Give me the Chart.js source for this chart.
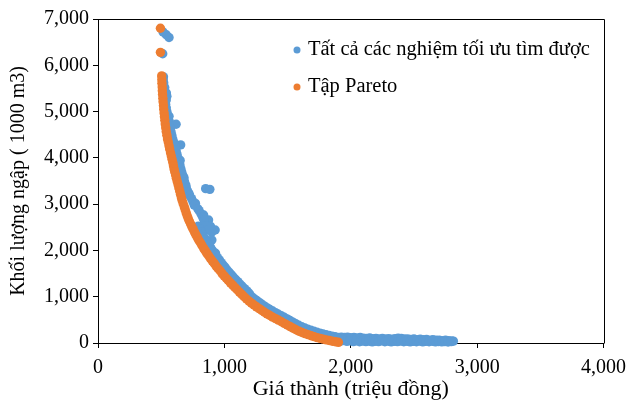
<!DOCTYPE html>
<html>
<head>
<meta charset="utf-8">
<script src="https://cdn.jsdelivr.net/npm/chart.js@4.4.1/dist/chart.umd.min.js"></script>
<style>
    html, body { margin: 0; padding: 0; background: #fff; }
</style>
</head>
<body>
<canvas id="chart" width="634" height="408"></canvas>
<script>
// Pareto set (cost, flooded volume)
const paretoCost = [
    494, 494, 504, 505, 506, 508, 509, 511, 513, 515, 518, 520, 523, 526, 529, 532, 536, 540, 545, 550,
    556, 562, 567, 574, 580, 586, 592, 597, 602, 607, 614, 620, 627, 634, 640, 647, 653, 660, 666, 674,
    683, 690, 698, 706, 714, 723, 733, 743, 754, 765, 776, 788, 800, 812, 824, 837, 850, 863, 877, 891,
    905, 920, 935, 950, 966, 982, 998, 1015, 1031, 1048, 1066, 1083, 1101, 1119, 1138, 1156, 1175, 1195, 1214, 1234,
    1254, 1275, 1296, 1317, 1338, 1360, 1382, 1405, 1428, 1451, 1474, 1497, 1520, 1543, 1566, 1590, 1614, 1638, 1662, 1686,
    1710, 1734, 1758, 1782, 1806, 1830, 1854, 1878, 1902
];
const paretoVolume = [
    6800, 6280, 5770, 5690, 5610, 5530, 5450, 5370, 5290, 5210, 5130, 5050, 4970, 4890, 4810, 4730, 4650, 4570, 4490, 4410,
    4340, 4260, 4190, 4110, 4040, 3970, 3900, 3830, 3760, 3700, 3630, 3560, 3490, 3420, 3350, 3280, 3210, 3140, 3080, 3010,
    2940, 2880, 2810, 2750, 2690, 2630, 2570, 2510, 2450, 2390, 2330, 2270, 2210, 2160, 2100, 2040, 1990, 1930, 1880, 1820,
    1770, 1720, 1660, 1610, 1560, 1500, 1450, 1400, 1350, 1300, 1250, 1200, 1150, 1100, 1050, 1000, 950, 905, 862, 822,
    782, 742, 702, 664, 628, 595, 560, 527, 494, 460, 425, 390, 355, 320, 287, 255, 228, 203, 180, 158,
    137, 117, 100, 84, 68, 53, 39, 26, 15
];

// All optimal solutions found
const allCost = [
    515, 540, 562, 512, 518, 516, 520, 528, 541, 545, 540, 535, 540, 545, 552, 562, 558, 565, 618, 574,
    578, 585, 592, 654, 603, 612, 618, 650, 625, 632, 640, 648, 655, 662, 680, 670, 678, 685, 695, 700,
    719, 710, 725, 740, 771, 752, 762, 790, 800, 836, 815, 875, 828, 860, 840, 862, 927, 890, 900, 850,
    875, 852, 885, 901, 930, 1000,
    794, 805, 816, 828, 840, 852, 864, 877, 890, 903, 917, 931, 945, 960, 975, 990, 1006, 1022, 1038, 1055,
    1071, 1088, 1106, 1123, 1141, 1159, 1178, 1196,
    1197, 1217, 1236, 1256, 1276, 1297, 1318, 1339, 1360, 1382, 1404, 1427, 1450, 1473, 1496, 1519, 1542, 1565, 1588, 1612,
    1636, 1660, 1684, 1708, 1732, 1756, 1780, 1804, 1828, 1852, 1876, 1900,
    1925, 1950, 1975, 2000, 2025, 2050, 2075, 2100, 2125, 2150, 2175, 2200, 2225, 2250, 2275, 2300, 2325, 2350, 2375, 2400,
    2425, 2450, 2475, 2500, 2525, 2550, 2575, 2600, 2625, 2650, 2675, 2700, 2725, 2750, 2775, 2800, 2812,
    1920, 1945, 1970, 1995, 2020, 2045, 2070, 2095, 2120, 2145, 2170, 2195, 2220, 2245, 2270, 2295, 2320, 2345, 2370, 2395,
    2420, 2445, 2470, 2495, 2520, 2545, 2570, 2595, 2620, 2645, 2670, 2695, 2720, 2745, 2770, 2795
];
const allVolume = [
    6720, 6660, 6600, 6250, 5750, 5690, 5620, 5520, 5400, 5330, 5250, 5160, 5080, 5000, 4920, 4900, 4830, 4780, 4727, 4650,
    4560, 4480, 4400, 4280, 4320, 4240, 4160, 3945, 4080, 4000, 3920, 3850, 3770, 3700, 3575, 3630, 3550, 3480, 3410, 3340,
    3233, 3270, 3190, 3120, 3017, 3050, 2980, 2900, 2860, 2765, 2790, 2657, 2720, 2600, 2650, 2477, 2441, 2520, 2400, 2530,
    2450, 3335, 3320, 2225, 1940, 1613,
    2525, 2465, 2405, 2345, 2285, 2235, 2175, 2115, 2065, 2005, 1955, 1895, 1845, 1795, 1735, 1685, 1635, 1575, 1525, 1475,
    1425, 1375, 1325, 1275, 1225, 1175, 1125, 1075,
    1045, 1000, 957, 917, 877, 837, 797, 759, 723, 690, 655, 622, 589, 555, 520, 485, 450, 415, 382, 350,
    323, 298, 275, 253, 232, 212, 195, 179, 163, 148, 134, 121,
    125, 118, 128, 115, 122, 110, 118, 105, 98, 108, 92, 100, 88, 96, 85, 92, 80, 95, 105, 98,
    85, 90, 78, 85, 72, 80, 70, 75, 62, 70, 58, 62, 52, 58, 48, 45, 40,
    40, 55, 35, 50, 30, 45, 28, 42, 30, 40, 25, 38, 30, 45, 28, 40, 25, 35, 30, 42,
    28, 38, 25, 35, 28, 40, 25, 35, 28, 38, 25, 32, 25, 30, 22, 30
];

const xTicks = [0, 1000, 2000, 3000, 4000];
const yTicks = [0, 1000, 2000, 3000, 4000, 5000, 6000, 7000];

const blue = '#5B9BD5';
const orange = '#ED7D31';
const fontFamily = '"Liberation Serif", "Times New Roman", serif';

const toPoints = (xs, ys) => xs.map((x, i) => ({ x: x, y: ys[i] }));

// box around plot area (top and right sides)
const plotBox = {
    id: 'plotBox',
    beforeDatasetsDraw(chart) {
        const { ctx, chartArea } = chart;
        ctx.save();
        ctx.strokeStyle = '#000';
        ctx.lineWidth = 1;
        ctx.beginPath();
        ctx.moveTo(Math.round(chartArea.left) + 0.5, Math.round(chartArea.top) + 0.5);
        ctx.lineTo(Math.round(chartArea.right) + 0.5, Math.round(chartArea.top) + 0.5);
        ctx.lineTo(Math.round(chartArea.right) + 0.5, Math.round(chartArea.bottom) + 0.5);
        ctx.stroke();
        ctx.restore();
    }
};

// legend inside the plot, upper right
const innerLegend = {
    id: 'innerLegend',
    afterDatasetsDraw(chart) {
        const { ctx, chartArea } = chart;
        ctx.save();
        ctx.font = '20.5px ' + fontFamily;
        ctx.textBaseline = 'middle';
        ctx.textAlign = 'left';
        chart.data.datasets.forEach((ds, i) => {
            const y = chartArea.top + 31 + i * 37;
            const x = chartArea.left + 199;
            ctx.fillStyle = ds.backgroundColor;
            ctx.beginPath();
            ctx.arc(x, y, 3.5, 0, Math.PI * 2);
            ctx.fill();
            ctx.fillStyle = '#000';
            ctx.fillText(ds.label, x + 11, y);
        });
        ctx.restore();
    }
};

const data = {
    datasets: [
        {
            label: 'Tất cả các nghiệm tối ưu tìm được',
            data: toPoints(allCost, allVolume),
            backgroundColor: blue,
            borderColor: blue,
            pointRadius: 4.7,
            borderWidth: 0,
            clip: false,
            order: 1
        },
        {
            label: 'Tập Pareto',
            data: toPoints(paretoCost, paretoVolume),
            backgroundColor: orange,
            borderColor: orange,
            pointRadius: 4.7,
            borderWidth: 0,
            clip: false,
            order: 0
        }
    ]
};

const tickFont = { family: fontFamily, size: 20 };

const config = {
    type: 'scatter',
    data: data,
    options: {
        responsive: false,
        animation: false,
        events: [],
        layout: { padding: { top: 19, right: 24, bottom: 0, left: 0 } },
        plugins: {
            legend: { display: false },
            tooltip: { enabled: false }
        },
        scales: {
            x: {
                type: 'linear',
                min: xTicks[0],
                max: xTicks[xTicks.length - 1],
                afterBuildTicks: s => { s.ticks = xTicks.map(v => ({ value: v })); },
                afterFit: s => { s.height = 65; },
                ticks: {
                    color: '#000',
                    font: tickFont,
                    padding: 8,
                    maxRotation: 0,
                    callback: v => v.toLocaleString('en-US')
                },
                grid: { drawOnChartArea: false, drawTicks: true, tickLength: 5, color: '#000' },
                border: { color: '#000', width: 1 },
                title: {
                    display: true,
                    text: 'Giá thành (triệu đồng)',
                    color: '#000',
                    font: { family: fontFamily, size: 22 },
                    padding: { top: 0, bottom: 6 }
                }
            },
            y: {
                type: 'linear',
                min: yTicks[0],
                max: yTicks[yTicks.length - 1],
                afterBuildTicks: s => { s.ticks = yTicks.map(v => ({ value: v })); },
                afterFit: s => { s.width = 98; },
                ticks: {
                    color: '#000',
                    font: tickFont,
                    padding: 4,
                    callback: v => v.toLocaleString('en-US')
                },
                grid: { drawOnChartArea: false, drawTicks: true, tickLength: 5, color: '#000' },
                border: { color: '#000', width: 1 },
                title: {
                    display: true,
                    text: 'Khối lượng ngập ( 1000 m3)',
                    color: '#000',
                    font: { family: fontFamily, size: 20 },
                    padding: { top: 7, bottom: 0 }
                }
            }
        }
    },
    plugins: [plotBox, innerLegend]
};

const paretoChart = new Chart(document.getElementById('chart'), config);
</script>
</body>
</html>
